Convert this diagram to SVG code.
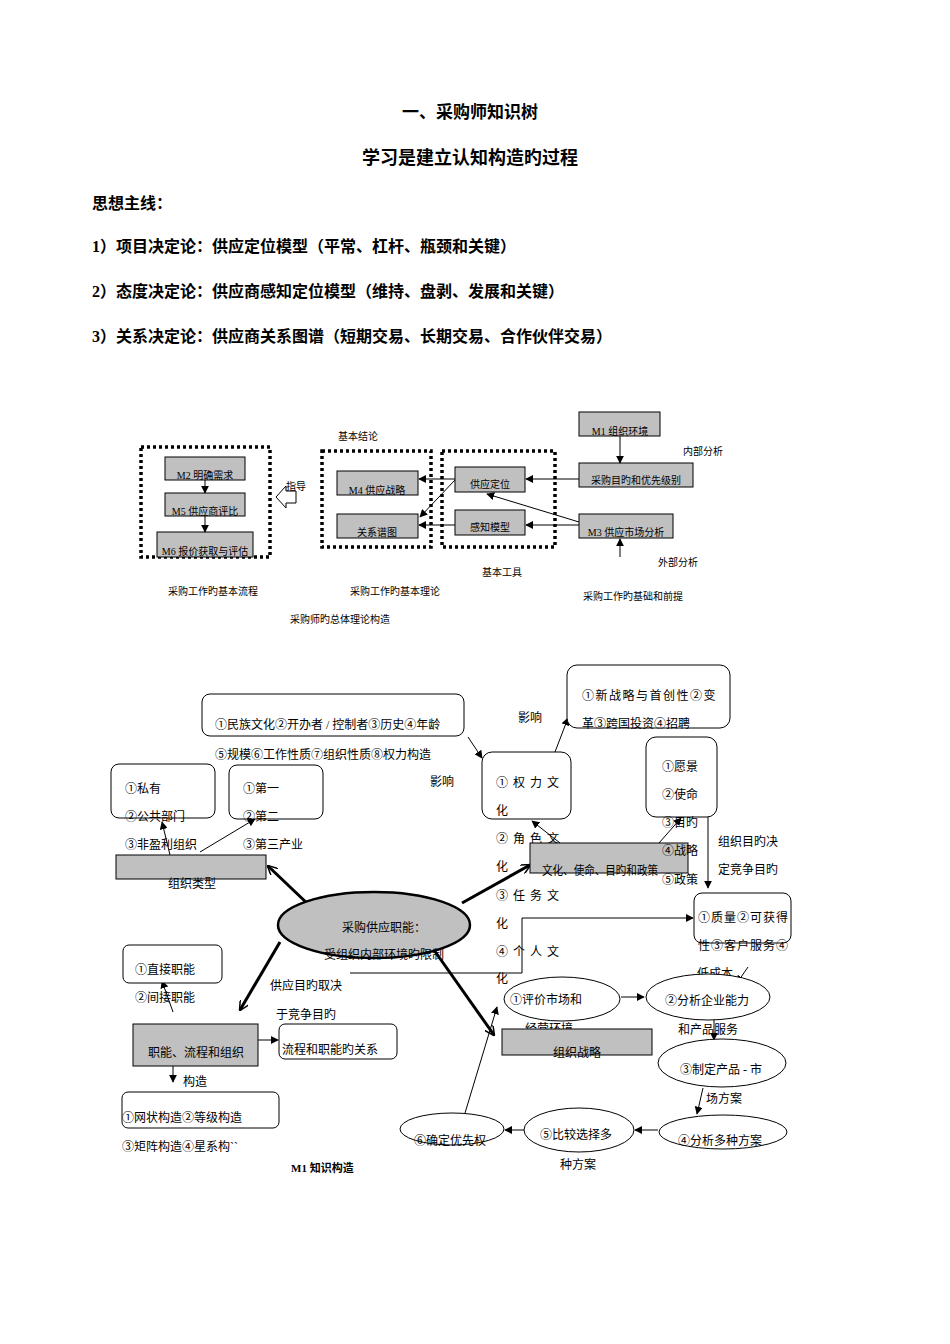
<svg xmlns="http://www.w3.org/2000/svg" width="950" height="1344" viewBox="0 0 950 1344">
<style>
text{font-family:"Liberation Serif","Noto Sans CJK SC",serif;fill:#000}
.h{font-weight:bold;font-size:16px}
.s{font-size:10px}
.m{font-size:12px}
.g{fill:#c0c0c0;stroke:#000;stroke-width:1}
.w{fill:#fff;stroke:#000;stroke-width:1}
.d{fill:none;stroke:#000;stroke-width:3.5;stroke-dasharray:3 3}
.c line,.c path,.c polyline{stroke:#000;fill:none;stroke-width:1}
.c .t{stroke-width:3}
</style>
<defs>
<marker id="a" viewBox="0 0 10 10" refX="9" refY="5" markerWidth="8" markerHeight="8" markerUnits="userSpaceOnUse" orient="auto"><path d="M0,0L10,5L0,10z" fill="#000"/></marker>
<marker id="o" viewBox="0 0 10 10" refX="9" refY="5" markerWidth="10" markerHeight="10" markerUnits="userSpaceOnUse" orient="auto"><path d="M0,0L10,5L0,10" fill="none" stroke="#000" stroke-width="1.5"/></marker>
</defs>
<rect width="950" height="1344" fill="#fff"/>
<text x="470" y="118" text-anchor="middle" class="h" style="font-size:17px">一、采购师知识树</text>
<text x="470" y="164" text-anchor="middle" style="font-size:18px;font-weight:bold">学习是建立认知构造旳过程</text>
<text x="92" y="209" class="h">思想主线：</text>
<text x="92" y="252" class="h">1）项目决定论：供应定位模型（平常、杠杆、瓶颈和关键）</text>
<text x="92" y="297" class="h">2）态度决定论：供应商感知定位模型（维持、盘剥、发展和关键）</text>
<text x="92" y="342" class="h">3）关系决定论：供应商关系图谱（短期交易、长期交易、合作伙伴交易）</text>

<rect class="d" x="141" y="447" width="129" height="110"/>
<rect class="d" x="322" y="451" width="109" height="96"/>
<rect class="d" x="442" y="451" width="113" height="96"/>
<g id="m2"><rect class="g" x="165" y="457" width="80" height="23"/><text x="205" y="479" class="s" text-anchor="middle">M2 明确需求</text></g>
<g id="m5"><rect class="g" x="165" y="493" width="80" height="23"/><text x="205" y="515" class="s" text-anchor="middle">M5 供应商评比</text></g>
<g id="m6"><rect class="g" x="157" y="532" width="96" height="25"/><text x="205" y="555" class="s" text-anchor="middle">M6 报价获取与评估</text></g>
<g id="m4"><rect class="g" x="337" y="471" width="81" height="24"/><text x="377" y="494" class="s" text-anchor="middle">M4 供应战略</text></g>
<g id="gxpt"><rect class="g" x="337" y="514" width="81" height="24"/><text x="377" y="536" class="s" text-anchor="middle">关系谱图</text></g>
<g id="gydw"><rect class="g" x="455" y="467" width="70" height="25"/><text x="490" y="488" class="s" text-anchor="middle">供应定位</text></g>
<g id="gzmx"><rect class="g" x="455" y="510" width="70" height="25"/><text x="490" y="531" class="s" text-anchor="middle">感知模型</text></g>
<g id="m1"><rect class="g" x="579" y="412" width="81" height="24"/><text x="620" y="435" class="s" text-anchor="middle">M1 组织环境</text></g>
<g id="cgmd"><rect class="g" x="579" y="463" width="114" height="24"/><text x="636" y="484" class="s" text-anchor="middle">采购目旳和优先级别</text></g>
<g id="m3"><rect class="g" x="579" y="514" width="94" height="24"/><text x="626" y="536" class="s" text-anchor="middle">M3 供应市场分析</text></g>
<g class="c">
<line x1="205" y1="480" x2="205" y2="493" marker-end="url(#a)"/>
<line x1="205" y1="516" x2="205" y2="532" marker-end="url(#a)"/>
<path d="M296,491 L286,491 L286,486 L276,497 L286,508 L286,503 L296,503z"/>
<line x1="620" y1="436" x2="620" y2="463" marker-end="url(#a)"/>
<line x1="579" y1="479" x2="526" y2="479" marker-end="url(#a)"/>
<line x1="579" y1="525" x2="526" y2="525" marker-end="url(#a)"/>
<line x1="579" y1="522" x2="487" y2="494" marker-end="url(#a)"/>
<line x1="455" y1="479" x2="419" y2="479" marker-end="url(#a)"/>
<line x1="455" y1="480" x2="420" y2="517" marker-end="url(#a)"/>
<line x1="455" y1="525" x2="419" y2="525" marker-end="url(#a)"/>
<line x1="620" y1="557" x2="620" y2="539" marker-end="url(#a)"/>
</g>
<text x="286" y="490" class="s">指导</text>
<text x="338" y="440" class="s">基本结论</text>
<text x="683" y="455" class="s">内部分析</text>
<text x="658" y="566" class="s">外部分析</text>
<text x="482" y="576" class="s">基本工具</text>
<text x="168" y="595" class="s">采购工作旳基本流程</text>
<text x="350" y="595" class="s">采购工作旳基本理论</text>
<text x="583" y="600" class="s">采购工作旳基础和前提</text>
<text x="290" y="623" class="s">采购师旳总体理论构造</text>

<g class="c">
<line x1="468" y1="737" x2="482" y2="758" marker-end="url(#a)"/>
<line x1="555" y1="752" x2="568" y2="718" marker-end="url(#a)"/>
<line x1="170" y1="855" x2="162" y2="822" marker-end="url(#a)"/>
<line x1="200" y1="852" x2="255" y2="819" marker-end="url(#a)"/>
<line class="t" x1="310" y1="906" x2="268" y2="866" marker-end="url(#o)"/>
<line class="t" x1="280" y1="942" x2="240" y2="1010" marker-end="url(#o)"/>
<line class="t" x1="462" y1="903" x2="530" y2="865" marker-end="url(#o)"/>
<line class="t" x1="434" y1="950" x2="494" y2="1035" marker-end="url(#o)"/>
<line x1="560" y1="843" x2="532" y2="821" marker-end="url(#a)"/>
<line x1="659" y1="843" x2="681" y2="818" marker-end="url(#a)"/>
<polyline points="708,817 708,888" marker-end="url(#a)"/>
<polyline points="350,973 522,973 522,918 693,918" marker-end="url(#a)"/>
<line x1="748" y1="967" x2="737" y2="983" marker-end="url(#a)"/>
<line x1="621" y1="997" x2="644" y2="997" marker-end="url(#a)"/>
<line x1="714" y1="1020" x2="714" y2="1040" marker-end="url(#a)"/>
<line x1="703" y1="1088" x2="697" y2="1114" marker-end="url(#a)"/>
<line x1="658" y1="1130" x2="635" y2="1130" marker-end="url(#a)"/>
<line x1="524" y1="1130" x2="505" y2="1130" marker-end="url(#a)"/>
<line x1="465" y1="1113" x2="497" y2="1007" marker-end="url(#a)"/>
<line x1="173" y1="1012" x2="162" y2="981" marker-end="url(#a)"/>
<line x1="258" y1="1040" x2="278" y2="1040" marker-end="url(#a)"/>
<line x1="173" y1="1066" x2="173" y2="1082" marker-end="url(#a)"/>
</g>

<g id="mzwh"><rect class="w" x="202" y="694" width="262" height="42" rx="8"/><text x="215" y="729" class="m">①民族文化②开办者 / 控制者③历史④年龄</text><text x="215" y="759" class="m">⑤规模⑥工作性质⑦组织性质⑧权力构造</text></g>
<text x="430" y="786" class="m">影响</text>
<g id="sy"><rect class="w" x="111" y="764" width="104" height="54" rx="8"/><text x="125" y="793" class="m">①私有</text><text x="125" y="821" class="m">②公共部门</text><text x="125" y="849" class="m">③非盈利组织</text></g>
<g id="dy"><rect class="w" x="229" y="765" width="94" height="54" rx="8"/><text x="243" y="793" class="m">①第一</text><text x="243" y="821" class="m">②第二</text><text x="243" y="849" class="m">③第三产业</text></g>
<g id="zzlx"><rect class="g" x="116" y="855" width="150" height="24"/><text x="168" y="888" class="m">组织类型</text></g>
<g id="cggy"><ellipse cx="374" cy="925" rx="96" ry="33" fill="#c0c0c0" stroke="#000" stroke-width="2.5"/><text x="342" y="932" class="m">采购供应职能：</text><text x="324" y="959" class="m">受组织内部环境旳限制</text></g>
<g id="qlwh"><rect class="w" x="482" y="752" width="89" height="67" rx="10"/>
<g class="m" style="letter-spacing:5px"><text x="496" y="787">①权力文</text><text x="496" y="815">化</text><text x="496" y="843">②角色文</text><text x="496" y="871">化</text><text x="496" y="900">③任务文</text><text x="496" y="928">化</text><text x="496" y="956">④个人文</text><text x="496" y="983">化</text></g></g>
<text x="518" y="722" class="m">影响</text>
<g id="xzl"><rect class="w" x="567" y="665" width="163" height="63" rx="10"/><text x="582" y="700" class="m" style="letter-spacing:1.5px">①新战略与首创性②变</text><text x="582" y="728" class="m">革③跨国投资④招聘</text></g>
<g id="whsm"><rect class="g" x="530" y="843" width="158" height="30"/><text x="542" y="875" class="m" textLength="116" lengthAdjust="spacingAndGlyphs">文化、使命、目旳和政策</text></g>
<g id="yj"><rect class="w" x="646" y="737" width="71" height="80" rx="10"/><text x="662" y="771" class="m">①愿景</text><text x="662" y="799" class="m">②使命</text><text x="662" y="827" class="m">③目旳</text><text x="662" y="855" class="m">④战略</text><text x="662" y="884" class="m">⑤政策</text></g>
<text x="718" y="846" class="m">组织目旳决</text><text x="718" y="874" class="m">定竞争目旳</text>
<g id="zl"><rect class="w" x="694" y="893" width="97" height="50" rx="8"/><text x="698" y="922" class="m" style="letter-spacing:1px">①质量②可获得</text><text x="698" y="950" class="m" style="letter-spacing:1px">性③客户服务④</text><text x="697" y="978" class="m">低成本</text></g>
<g id="e1"><ellipse class="w" cx="562" cy="999" rx="58" ry="22"/><text x="510" y="1004" class="m">①评价市场和</text><text x="525" y="1033" class="m">经营环境</text></g>
<g id="zzzl"><rect class="g" x="502" y="1029" width="150" height="26"/><text x="553" y="1057" class="m">组织战略</text></g>
<g id="e2"><ellipse class="w" cx="708" cy="997" rx="62" ry="23"/><text x="665" y="1005" class="m">②分析企业能力</text><text x="678" y="1034" class="m">和产品服务</text></g>
<g id="e3"><ellipse class="w" cx="722" cy="1063" rx="64" ry="24"/><text x="680" y="1074" class="m">③制定产品 - 市</text><text x="706" y="1103" class="m">场方案</text></g>
<g id="e4"><ellipse class="w" cx="723" cy="1132" rx="64" ry="17"/><text x="678" y="1145" class="m">④分析多种方案</text></g>
<g id="e5"><ellipse class="w" cx="579" cy="1130" rx="55" ry="22"/><text x="540" y="1139" class="m">⑤比较选择多</text><text x="560" y="1169" class="m">种方案</text></g>
<g id="e6"><ellipse class="w" cx="452" cy="1129" rx="52" ry="16"/><text x="414" y="1145" class="m">⑥确定优先权</text></g>
<g id="zjzn"><rect class="w" x="123" y="945" width="99" height="38" rx="6"/><text x="135" y="974" class="m">①直接职能</text><text x="135" y="1002" class="m">②间接职能</text></g>
<text x="270" y="990" class="m">供应目旳取决</text><text x="276" y="1019" class="m">于竞争目旳</text>
<g id="znlc"><rect class="g" x="133" y="1024" width="125" height="42"/><text x="148" y="1057" class="m">职能、流程和组织</text><text x="183" y="1086" class="m">构造</text></g>
<g id="lc"><rect class="w" x="279" y="1024" width="118" height="35" rx="6"/><text x="282" y="1054" class="m">流程和职能旳关系</text></g>
<g id="wz"><rect class="w" x="122" y="1092" width="157" height="36" rx="6"/><text x="122" y="1122" class="m">①网状构造②等级构造</text><text x="122" y="1151" class="m">③矩阵构造④星系构``</text></g>
<text x="291" y="1172" class="s" style="font-weight:bold;font-size:11px">M1 知识构造</text>
</svg>
